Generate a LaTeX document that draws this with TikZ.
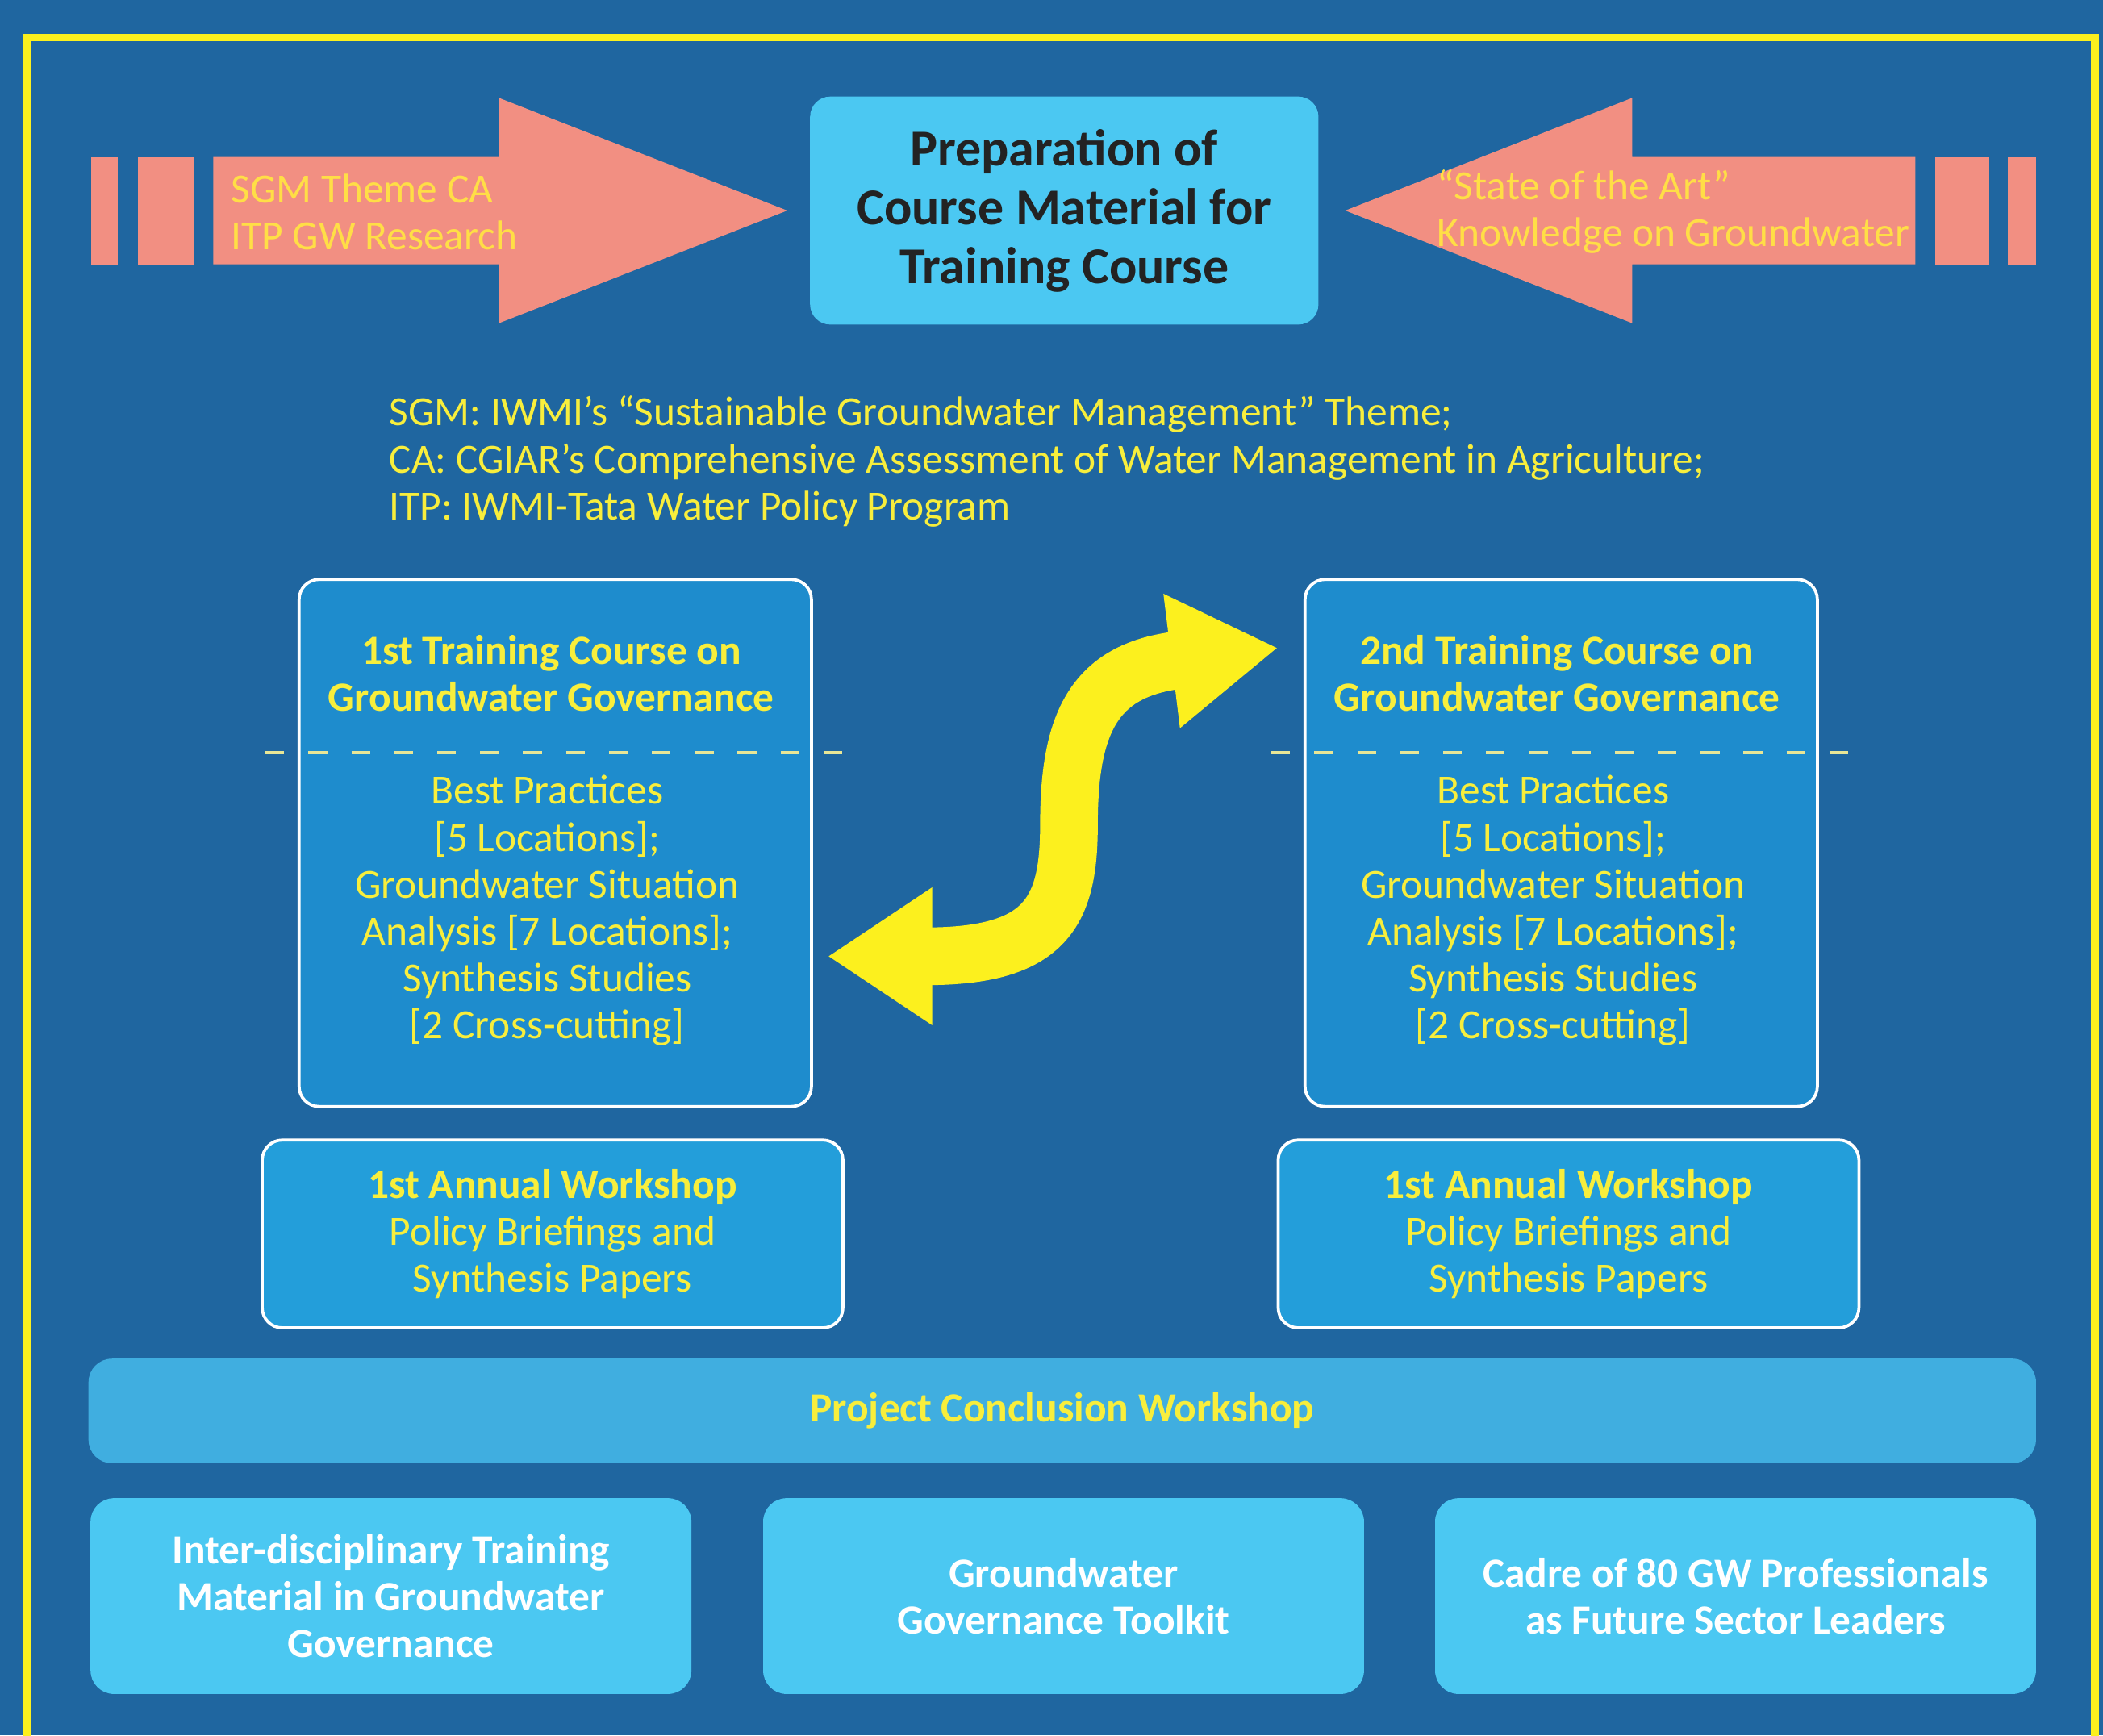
\documentclass[tikz,border=0pt]{standalone}
\usepackage{fontspec}
\setmainfont{Carlito}
\usepackage{tikz}
\usetikzlibrary{arrows.meta, positioning}
\definecolor{gwbg}{RGB}{31,102,160}
\definecolor{gwyellow}{RGB}{252,240,30}
\definecolor{gwtext}{RGB}{248,238,60}
\definecolor{gwpink}{RGB}{242,143,130}
\definecolor{gwgold}{RGB}{255,222,70}
\definecolor{gwcyan}{RGB}{75,200,242}
\definecolor{gwcourse}{RGB}{30,140,205}
\definecolor{gwshop}{RGB}{35,158,218}
\definecolor{gwbar}{RGB}{64,174,224}
\definecolor{gwdash}{RGB}{232,230,150}
\definecolor{gwdark}{RGB}{35,35,35}
\newcommand{\gwfont}{\fontsize{17.6}{19.9}\selectfont}

\begin{document}
\begin{tikzpicture}[x=0.2mm, y=-0.2mm,
    coursebox/.style={draw=white, line width=0.45mm, fill=gwcourse, rounded corners=3mm,
        minimum width=76.4mm, minimum height=78.6mm},
    shopbox/.style={draw=white, line width=0.45mm, fill=gwshop, rounded corners=3mm,
        minimum width=86.6mm, minimum height=28mm, text=gwtext, align=center, font=\gwfont},
    outbox/.style={fill=gwcyan, rounded corners=3.5mm, minimum width=89.6mm,
        minimum height=29.2mm, text=white, align=center, font=\gwfont\bfseries},
    yeltext/.style={text=gwtext, align=center, font=\gwfont, inner sep=0pt},
    pinktext/.style={text=gwgold, align=left, anchor=west, font=\gwfont, inner sep=0pt},
    gwdashline/.style={gwdash, line width=0.45mm, dash pattern=on 2.8mm off 3.6mm}]
    \useasboundingbox (0,0) rectangle (1568,1294);
    \fill[gwbg] (0,0) rectangle (1568,1294);
    \draw[gwyellow, line width=1.1mm] (20,1300) -- (20,28) -- (1562,28) -- (1562,1300);

    % Left input arrow
    \fill[gwpink] (68,117) rectangle (88,197);
    \fill[gwpink] (103,117) rectangle (145,197);
    \fill[gwpink] (159,117) -- (372,117) -- (372,73) -- (587,157) -- (372,241)
        -- (372,197) -- (159,197) -- cycle;
    \node[pinktext] (sgm) at (172,158) {SGM Theme CA\\ITP GW Research};

    % Right input arrow
    \fill[gwpink] (1497,117) rectangle (1518,197);
    \fill[gwpink] (1443,117) rectangle (1483,197);
    \fill[gwpink] (1428,117) -- (1217,117) -- (1217,73) -- (1003,157) -- (1217,241)
        -- (1217,197) -- (1428,197) -- cycle;
    \node[pinktext] (sota) at (1071,158) {“State of the Art”\\Knowledge on Groundwater};

    % Course material
    \node[fill=gwcyan, rounded corners=3mm, minimum width=75.8mm, minimum height=34mm,
          text=gwdark, align=center, font=\fontsize{21.9}{25}\selectfont\bfseries]
          (prep) at (793.5,157) {Preparation of\\Course Material for\\Training Course};

    % Abbreviations
    \node[yeltext, align=left, anchor=west] (abbr) at (290,344)
        {SGM: IWMI’s “Sustainable Groundwater Management” Theme;\\
         CA: CGIAR’s Comprehensive Assessment of Water Management in Agriculture;\\
         ITP: IWMI-Tata Water Policy Program};

    % Training courses
    \node[coursebox] (course1) at (414,628.5) {};
    \node[coursebox] (course2) at (1164,628.5) {};
    \draw[gwdashline] (198,561) -- (628,561);
    \draw[gwdashline] (948,561) -- (1378,561);
    \node[yeltext, font=\gwfont\bfseries] (title1) at (411,502)
        {1st Training Course on\\Groundwater Governance};
    \node[yeltext, font=\gwfont\bfseries] (title2) at (1161,502)
        {2nd Training Course on\\Groundwater Governance};
    \node[yeltext] (body1) at (408,679) {Best Practices\\{}[5 Locations];\\Groundwater Situation\\
        Analysis [7 Locations];\\Synthesis Studies\\{}[2 Cross-cutting]};
    \node[yeltext] (body2) at (1158,679) {Best Practices\\{}[5 Locations];\\Groundwater Situation\\
        Analysis [7 Locations];\\Synthesis Studies\\{}[2 Cross-cutting]};

    % Exchange
    \coordinate (swapL) at (617,713);
    \coordinate (swapR) at (953,483);
    \draw[gwyellow, line width=8.6mm,
          {Triangle[length=15.6mm, width=19.4mm]}-{Triangle[length=16mm, width=19mm]}]
        (swapL) .. controls (780,713) and (797,680) .. (797,615)
        .. controls (797,540) and (815,500) .. (swapR);

    % Annual workshops
    \node[shopbox] (shop1) at (412,920)
        {\textbf{1st Annual Workshop}\\Policy Briefings and\\Synthesis Papers};
    \node[shopbox] (shop2) at (1169.5,920)
        {\textbf{1st Annual Workshop}\\Policy Briefings and\\Synthesis Papers};

    % Conclusion
    \node[fill=gwbar, rounded corners=3.5mm, minimum width=290.4mm, minimum height=15.6mm,
          text=gwtext, font=\gwfont\bfseries] (concl) at (792,1052) {Project Conclusion Workshop};

    % Outputs
    \node[outbox] (out1) at (291.5,1190)
        {Inter-disciplinary Training\\Material in Groundwater\\Governance};
    \node[outbox] (out2) at (793,1190) {Groundwater\\Governance Toolkit};
    \node[outbox] (out3) at (1294,1190) {Cadre of 80 GW Professionals\\as Future Sector Leaders};
\end{tikzpicture}
\end{document}
